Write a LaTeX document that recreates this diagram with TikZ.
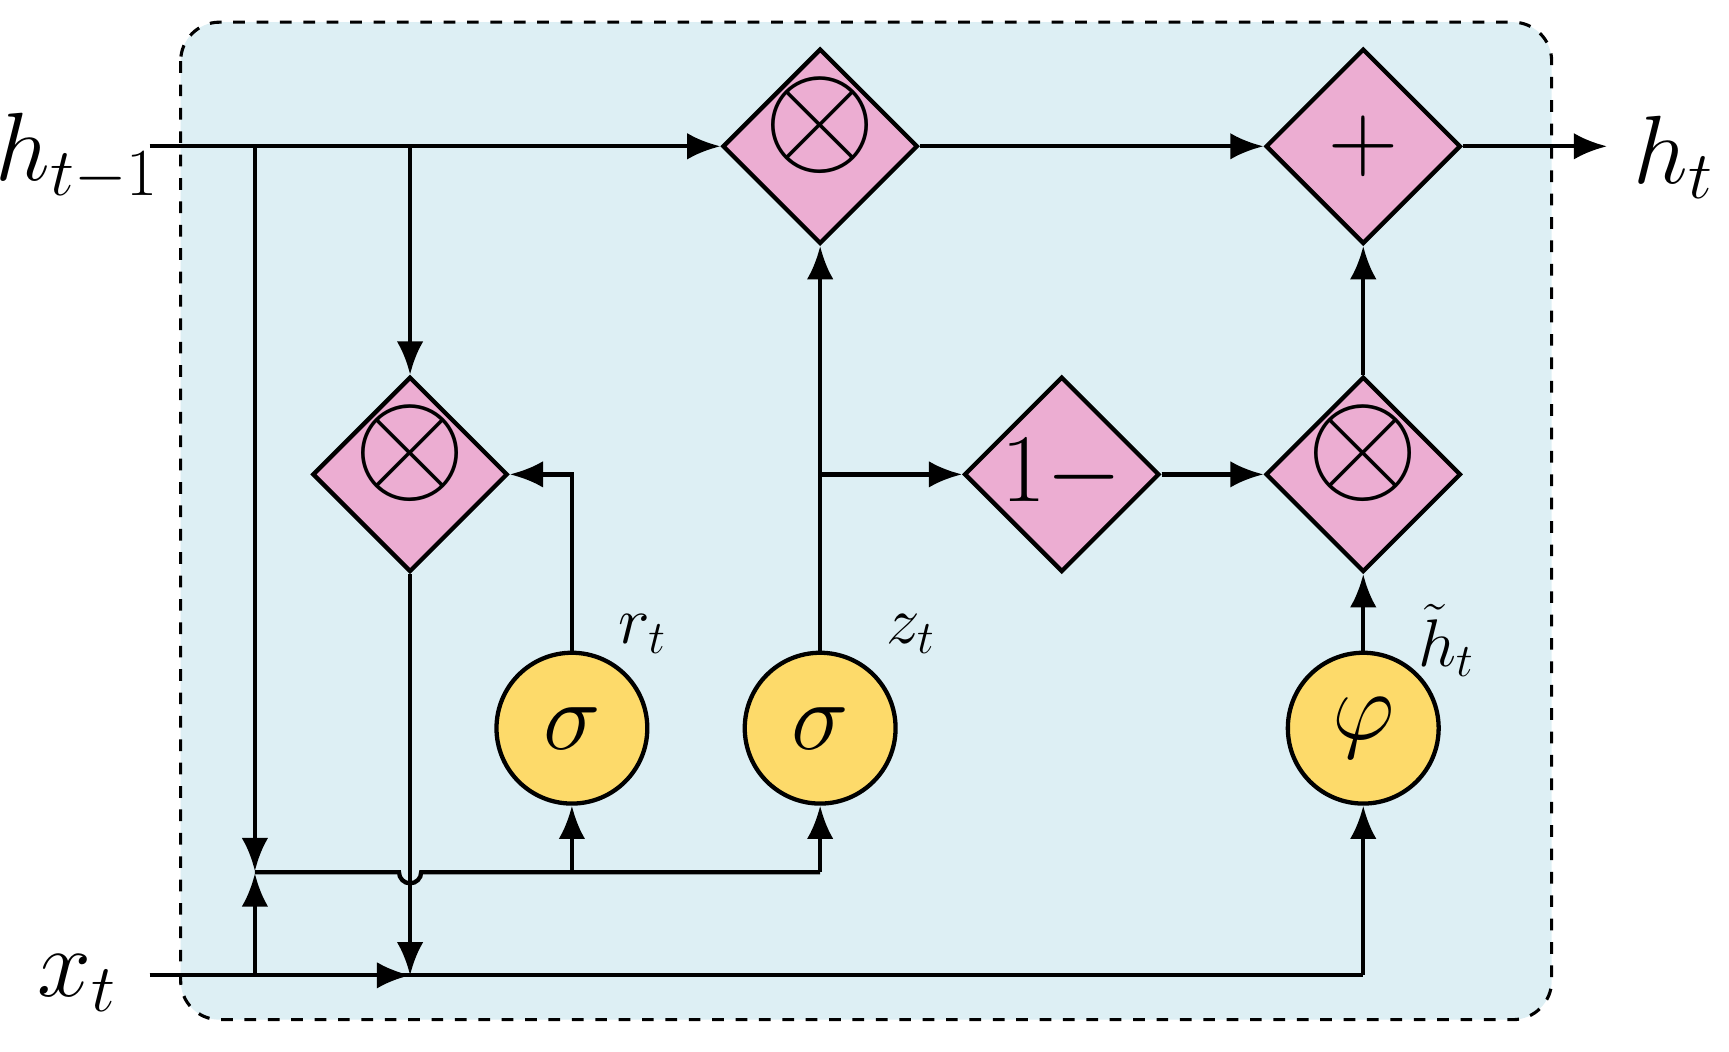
\documentclass[tikz,border=0pt]{standalone}
\usetikzlibrary{shapes.geometric,arrows.meta}
\newcommand{\bigot}{\makebox[0pt][c]{\smash{\raisebox{-0.35ex}{\scalebox{1.5}{$\otimes$}}}}}
\begin{document}
\begin{tikzpicture}[x=0.01cm,y=-0.01cm,
  dia/.style={diamond,draw,fill=dpink,minimum width=1.76cm,minimum height=1.76cm,inner sep=0pt,font=\fontsize{26}{26}\selectfont},
  circ/.style={circle,draw,fill=cyell,minimum size=1.36cm,inner sep=0pt,font=\fontsize{26}{26}\selectfont},
  lbl/.style={font=\fontsize{23}{23}\selectfont},
  slbl/.style={font=\fontsize{18}{18}\selectfont},
  ar/.style={-{Latex[length=3mm,width=2.4mm]}},
  line width=1.1pt]
\definecolor{dpink}{HTML}{ECADD2}
\definecolor{cyell}{HTML}{FDDA6A}
\definecolor{bgb}{HTML}{DDEFF4}
\useasboundingbox (0,0) rectangle (1560,949);
\draw[dashed,fill=bgb,rounded corners=10pt,line width=0.8pt] (163,20) rectangle (1400,920);
\node[dia] (m1) at (740,132) {\bigot};
\node[dia] (pl) at (1230,132) {$+$};
\node[dia] (m2) at (370,428) {\bigot};
\node[dia] (om) at (958,428) {$1-$};
\node[dia] (m3) at (1230,428) {\bigot};
\node[circ] (sr) at (516,657) {$\sigma$};
\node[circ] (sz) at (740,657) {$\sigma$};
\node[circ] (ph) at (1230,657) {$\varphi$};
\node[lbl] (hin) at (70,142) {$h_{t-1}$};
\node[lbl] (hout) at (1510,142) {$h_t$};
\node[lbl] (xin) at (70,887) {$x_t$};
\node[slbl] at (580,572) {$r_t$};
\node[slbl] at (822,572) {$z_t$};
\node[slbl] at (1305,578) {$\tilde h_t$};
\coordinate (hs) at (135,132);
\coordinate (xs) at (135,880);
\coordinate (he) at (1450,132);
\coordinate (a1) at (230,132);
\coordinate (a2) at (370,132);
\coordinate (b1) at (230,880);
\coordinate (b2) at (370,880);
\coordinate (b3) at (1230,880);
\coordinate (tie) at (230,787);
\draw[ar] (hs) -- (m1.west);
\draw[ar] (m1.east) -- (pl.west);
\draw[ar] (pl.east) -- (he);
\draw[ar] (a2) -- (m2.north);
\draw[ar] (a1) -- (230,786);
\draw[ar] (b1) -- (230,788);
\draw (xs) -- (b3);
\draw[ar] (b3) -- (ph.south);
\draw[ar] (m2.south) -- (b2);
\draw[ar] (xs) -- (b2);
\draw (tie) -- (360,787) arc (180:0:10) -- (740,787);
\draw[ar] (516,787) -- (sr.south);
\draw[ar] (740,787) -- (sz.south);
\draw[ar] (sr.north) |- (m2.east);
\draw[ar] (sz.north) -- (m1.south);
\draw[ar] (740,428) -- (om.west);
\draw[ar] (om.east) -- (m3.west);
\draw[ar] (ph.north) -- (m3.south);
\draw[ar] (m3.north) -- (pl.south);
\end{tikzpicture}
\end{document}
